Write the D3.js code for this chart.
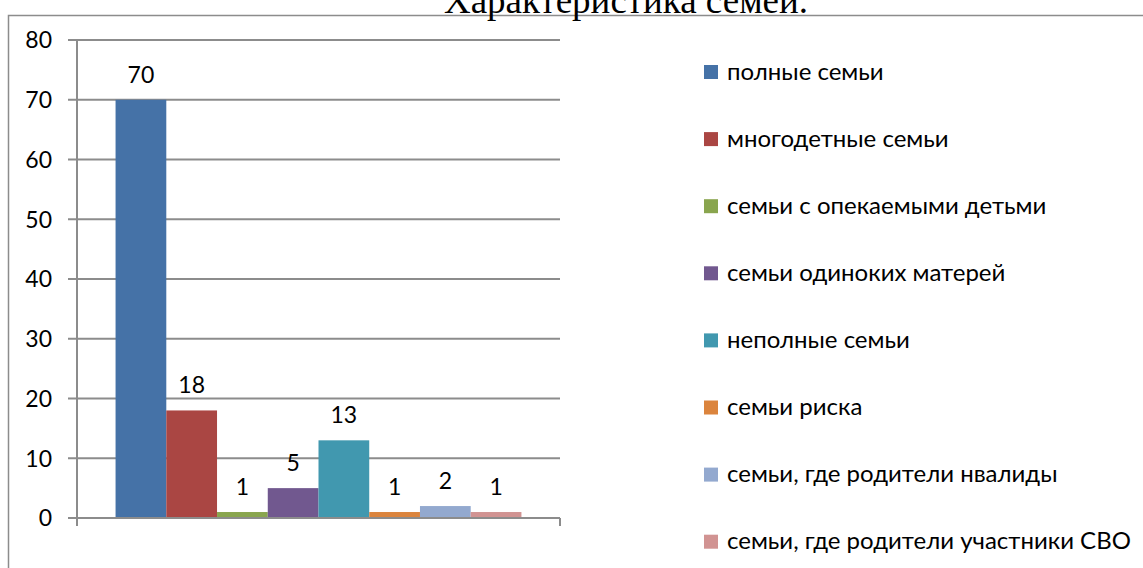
<!DOCTYPE html>
<html>
<head>
<meta charset="utf-8">
<script src="https://cdn.jsdelivr.net/npm/d3@7"></script>
<style>
  body { margin: 0; background: #fff; }
  text { font-family: Lato, "Noto Sans", sans-serif; fill: #000; }
</style>
</head>
<body>
<svg id="chart" width="1143" height="568"></svg>
<script>
// data
const categories = [
  "полные семьи",
  "многодетные семьи",
  "семьи с опекаемыми детьми",
  "семьи одиноких матерей",
  "неполные семьи",
  "семьи риска",
  "семьи, где родители нвалиды",
  "семьи, где родители участники СВО"
];
const values = [70, 18, 1, 5, 13, 1, 2, 1];
const colors = ["#4572A7", "#AA4643", "#89A54E", "#71588F", "#4198AF", "#DB843D", "#93A9CF", "#D19392"];
const yTicks = [0, 10, 20, 30, 40, 50, 60, 70, 80];
const titleText = "Характеристика семей.";

let svg = d3.select("#chart");

// outer frame of the chart
svg.append("rect")
  .attr("x", 8.5).attr("y", 15.5)
  .attr("width", 1200).attr("height", 600)
  .attr("fill", "none")
  .attr("stroke", "#8c8c8c")
  .attr("stroke-width", 1.5);

// title, partially cut off at the top
svg.append("text")
  .attr("x", 626).attr("y", 13)
  .attr("text-anchor", "middle")
  .style("font-family", "'Liberation Serif', 'Times New Roman', serif")
  .style("font-size", "37px")
  .text(titleText);

let plot = { left: 77, right: 560, top: 40, bottom: 518 };

let y = d3.scaleLinear()
  .domain([0, 80])
  .range([plot.bottom, plot.top]);

let x0 = d3.scaleBand()
  .domain(["g"])
  .range([plot.left, plot.right])
  .paddingInner(0)
  .paddingOuter(0.095);

let x = d3.scaleBand()
  .domain(d3.range(categories.length))
  .range([x0("g"), x0("g") + x0.bandwidth()]);

// gridlines
svg.append("g")
  .selectAll("line")
  .data(yTicks)
  .enter().append("line")
  .attr("x1", plot.left - 9)
  .attr("x2", plot.right)
  .attr("y1", d => y(d))
  .attr("y2", d => y(d))
  .attr("stroke", "#8c8c8c")
  .attr("stroke-width", 2);

// y axis labels
svg.append("g")
  .selectAll("text")
  .data(yTicks)
  .enter().append("text")
  .attr("x", 52)
  .attr("y", d => y(d))
  .attr("dy", "0.36em")
  .attr("text-anchor", "end")
  .style("font-size", "23px")
  .text(d => d);

// bars
svg.append("g")
  .selectAll("rect")
  .data(values)
  .enter().append("rect")
  .attr("x", (d, i) => x(i))
  .attr("width", x.bandwidth())
  .attr("y", d => y(d))
  .attr("height", d => y(0) - y(d))
  .attr("fill", (d, i) => colors[i]);

// axis lines on top
svg.append("line")
  .attr("x1", plot.left).attr("x2", plot.left)
  .attr("y1", plot.top).attr("y2", plot.bottom + 8)
  .attr("stroke", "#8c8c8c").attr("stroke-width", 2);
svg.append("line")
  .attr("x1", plot.left - 9).attr("x2", plot.right)
  .attr("y1", plot.bottom).attr("y2", plot.bottom)
  .attr("stroke", "#8c8c8c").attr("stroke-width", 2);
svg.append("line")
  .attr("x1", plot.right).attr("x2", plot.right)
  .attr("y1", plot.bottom).attr("y2", plot.bottom + 8)
  .attr("stroke", "#8c8c8c").attr("stroke-width", 2);

// value labels
svg.append("g")
  .selectAll("text")
  .data(values)
  .enter().append("text")
  .attr("x", (d, i) => x(i) + x.bandwidth() / 2)
  .attr("y", d => y(d) - 17)
  .attr("text-anchor", "middle")
  .style("font-size", "23px")
  .text(d => d);

// legend
let legend = svg.append("g")
  .selectAll("g")
  .data(categories)
  .enter().append("g")
  .attr("transform", (d, i) => "translate(704," + (72 + i * 67.1) + ")");

legend.append("rect")
  .attr("x", 0).attr("y", -7)
  .attr("width", 14).attr("height", 14)
  .attr("fill", (d, i) => colors[i]);

legend.append("text")
  .attr("x", 23)
  .attr("y", -1)
  .attr("dy", "0.36em")
  .style("font-size", "24px")
  .text(d => d);
</script>
</body>
</html>
